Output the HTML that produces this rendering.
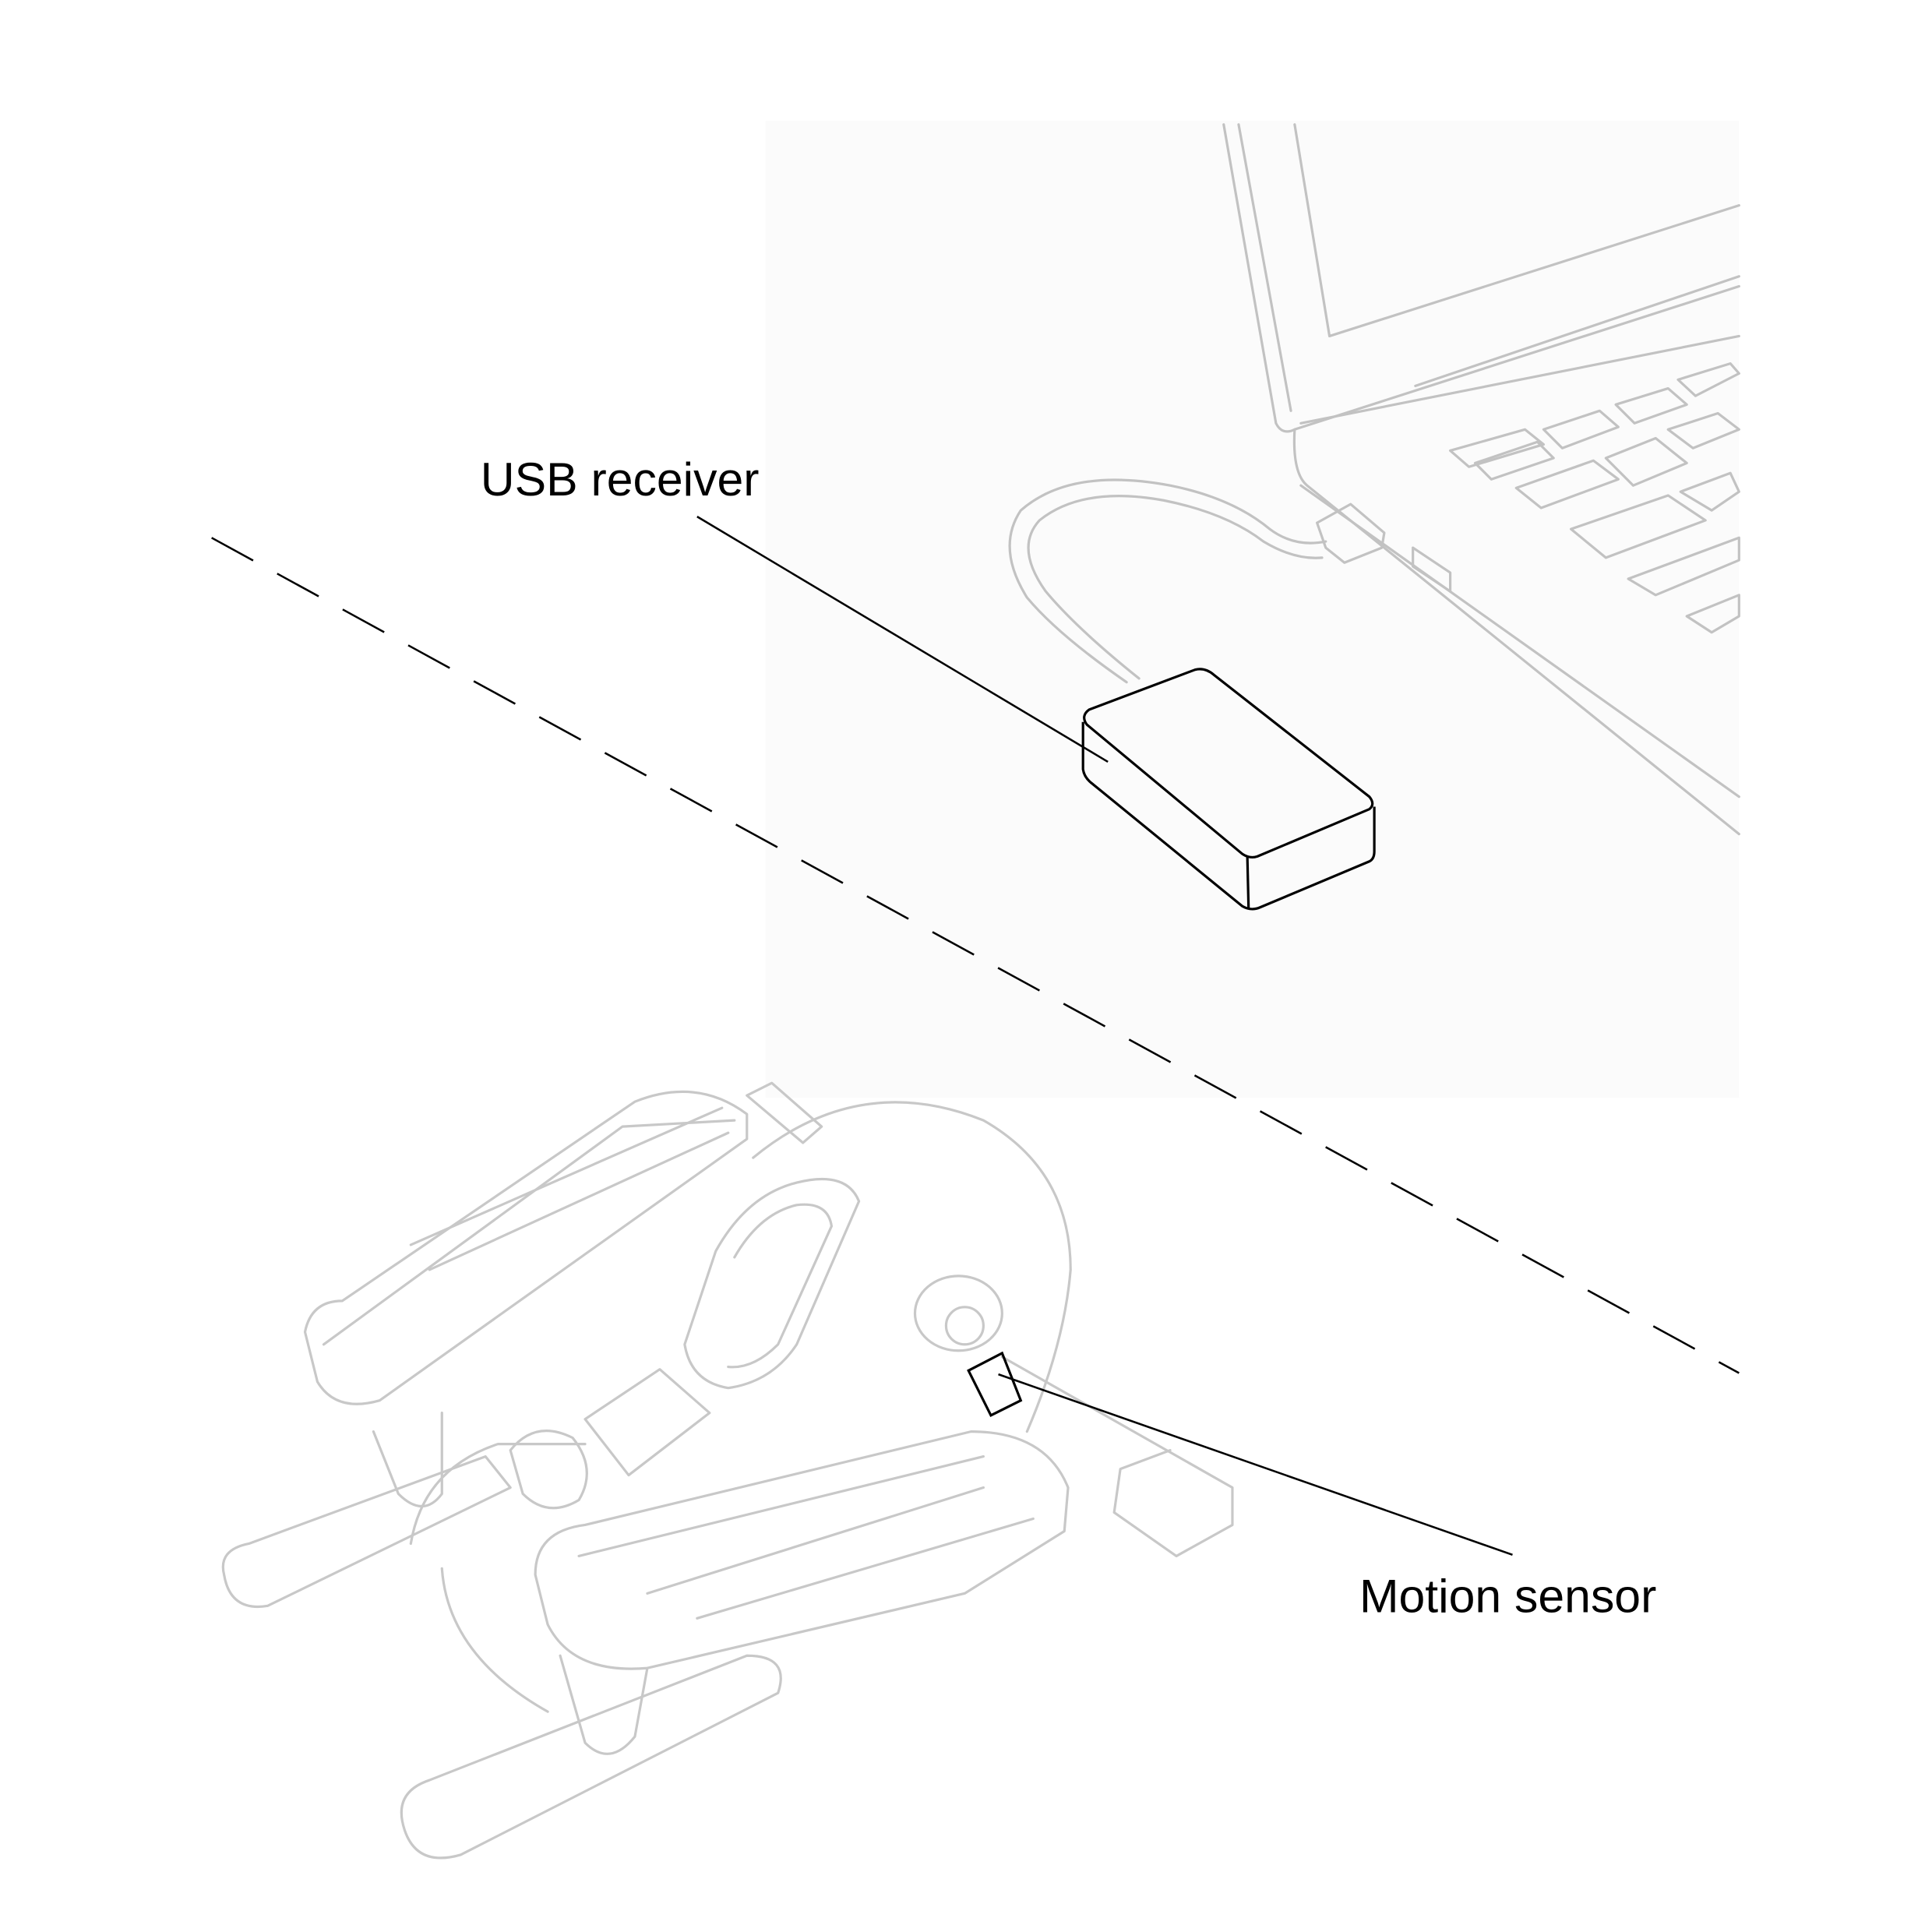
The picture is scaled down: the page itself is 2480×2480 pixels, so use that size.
<!DOCTYPE html>
<html><head><style>html,body{margin:0;padding:0;background:#fff}svg{display:block}</style></head>
<body>
<svg width="2480" height="2480" viewBox="0 0 1552 1552" xmlns="http://www.w3.org/2000/svg">
<rect x="615" y="97" width="782" height="785" fill="#fbfbfb"/>
<g fill="none" stroke="#c2c2c2" stroke-width="2" stroke-linejoin="round" stroke-linecap="round">
<!-- laptop screen -->
<path d="M983 100 L1025 340 Q1030 350 1040 345 L1397 230"/>
<path d="M995 100 L1037 330"/>
<path d="M1040 100 L1068 270 L1397 165"/>
<path d="M1137 310 L1397 222"/>
<!-- laptop base -->
<path d="M1040 345 Q1038 380 1050 390 L1397 670"/>
<path d="M1045 340 L1397 270"/>
<path d="M1045 390 L1397 640"/>
<!-- keys -->
<path d="M1165 362 L1225 345 L1240 357 L1180 375 Z"/>
<path d="M1185 372 L1235 355 L1248 368 L1198 385 Z"/>
<path d="M1240 345 L1285 330 L1300 343 L1255 360 Z"/>
<path d="M1298 325 L1340 312 L1355 325 L1313 340 Z"/>
<path d="M1348 305 L1390 292 L1397 300 L1362 318 Z"/>
<path d="M1218 392 L1280 370 L1300 385 L1238 408 Z"/>
<path d="M1290 368 L1330 352 L1355 372 L1312 390 Z"/>
<path d="M1340 345 L1380 332 L1397 345 L1360 360 Z"/>
<path d="M1262 425 L1340 398 L1370 418 L1290 448 Z"/>
<path d="M1350 395 L1390 380 L1397 395 L1375 410 Z"/>
<path d="M1308 465 L1397 432 L1397 450 L1330 478 Z"/>
<path d="M1355 495 L1397 478 L1397 495 L1375 508 Z"/>
<path d="M1135 440 L1165 460 L1165 475 L1135 455 Z"/>
<!-- cable -->
<path d="M905 548 Q850 510 825 480 Q800 440 820 410 Q860 375 940 390 Q990 400 1020 425 Q1040 440 1065 435"/>
<path d="M915 545 Q865 505 840 475 Q815 440 835 418 Q870 390 935 402 Q985 412 1015 435 Q1040 450 1062 448"/>
<path d="M1058 420 L1085 405 L1112 428 L1110 440 L1080 452 L1065 440 Z"/>
</g>
<!-- elliptical trainer -->
<g fill="none" stroke="#c8c8c8" stroke-width="2" stroke-linejoin="round" stroke-linecap="round">
<path d="M605 930 Q690 860 790 900 Q860 940 860 1020 Q855 1080 825 1150"/>
<path d="M575 1005 Q600 960 640 950 Q680 940 690 965 L640 1080 Q620 1110 585 1115 Q555 1110 550 1080 Z"/>
<path d="M590 1010 Q610 975 640 968 Q665 965 668 985 L625 1080 Q605 1100 585 1098"/>
<path d="M245 1070 Q250 1045 275 1045 L510 885 Q560 865 600 895 L600 915 L305 1125 Q270 1135 255 1110 Z"/>
<path d="M260 1080 L500 905 L590 900"/>
<path d="M300 1150 L320 1200 Q340 1220 355 1200 L355 1135"/>
<path d="M180 1265 Q175 1245 200 1240 L390 1170 L410 1195 L215 1290 Q185 1295 180 1265 Z"/>
<path d="M325 1470 Q315 1440 345 1430 L600 1330 Q635 1330 625 1360 L370 1490 Q335 1500 325 1470 Z"/>
<path d="M330 1240 Q340 1180 400 1160 L470 1160"/>
<path d="M430 1265 Q430 1230 470 1225 L780 1150 Q840 1150 858 1195 L855 1230 L775 1280 L520 1340 Q460 1345 440 1305 Z"/>
<path d="M465 1250 L790 1170"/>
<path d="M450 1330 L470 1400 Q490 1420 510 1395 L520 1340"/>
<path d="M355 1260 Q360 1330 440 1375"/>
<path d="M410 1165 Q430 1140 460 1155 Q480 1180 465 1205 Q440 1220 420 1200 Z"/>
<path d="M470 1140 L530 1100 L570 1135 L505 1185 Z"/>
<ellipse cx="770" cy="1055" rx="35" ry="30"/>
<ellipse cx="775" cy="1065" rx="15" ry="15"/>
<path d="M805 1090 L990 1195 L990 1225 L945 1250 L895 1215 L900 1180 L940 1165"/>
<path d="M600 880 L620 870 L660 905 L645 918 Z"/>
<path d="M330 1000 L580 890 M345 1020 L585 910"/>
<path d="M520 1280 L790 1195 M560 1300 L830 1220"/>
</g>
<!-- dashed line -->
<line x1="170" y1="432" x2="1397" y2="1103" stroke="#000" stroke-width="1.6" stroke-dasharray="38,22"/>
<!-- USB receiver -->
<g fill="none" stroke="#000" stroke-width="2" stroke-linejoin="round">
<path d="M875 570 L960 538 Q968 536 975 542 L1100 640 Q1105 646 1100 650 L1010 688 Q1004 690 998 686 L873 582 Q868 575 875 570 Z"/>
<path d="M870 580 L870 618 Q871 625 878 630 L998 728 Q1005 732 1012 729 L1100 692 Q1104 690 1104 684 L1104 648"/>
<path d="M1002 688 L1003 730"/>
</g>
<!-- leaders -->
<line x1="560" y1="415" x2="890" y2="612" stroke="#000" stroke-width="1.6"/>
<line x1="802" y1="1104" x2="1215" y2="1249" stroke="#000" stroke-width="1.6"/>
<path d="M778 1101 L805 1087 L820 1125 L796 1137 Z" fill="none" stroke="#000" stroke-width="2"/>
<g font-family="Liberation Sans, sans-serif" font-size="38" fill="#000">
<text x="386" y="398">USB receiver</text>
<text x="1092" y="1295">Motion sensor</text>
</g>
</svg>
</body></html>
